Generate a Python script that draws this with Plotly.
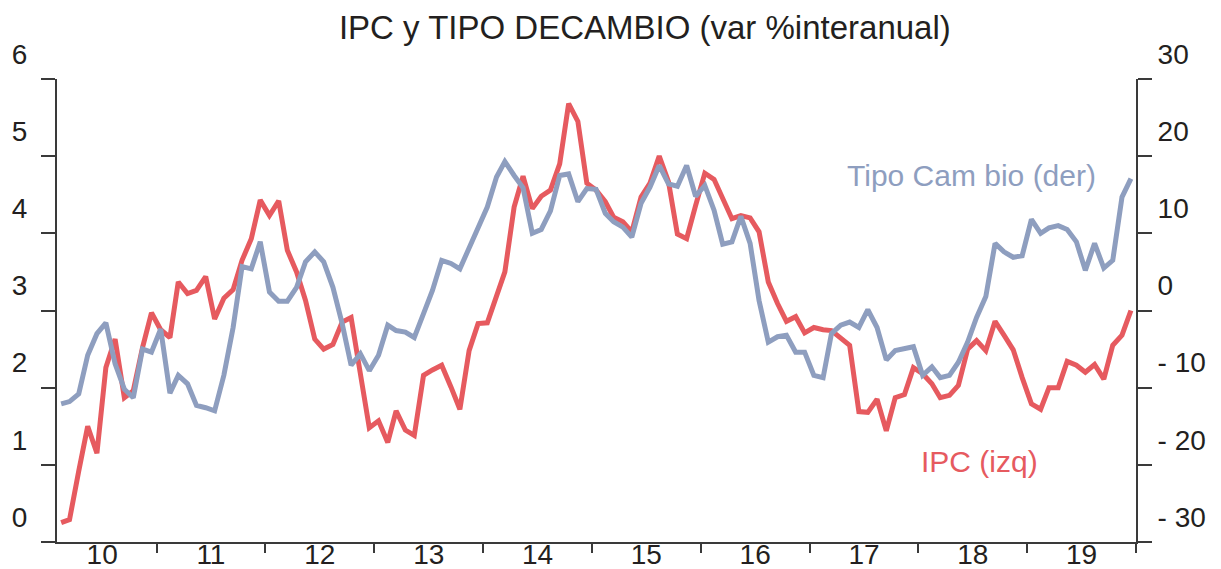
import pandas as pd
import plotly.graph_objects as go

# Monthly data, Feb 2010 - Dec 2019
months = pd.date_range(start="2010-02-01", periods=119, freq="MS") + pd.Timedelta(days=14)

ipc = [0.25, 0.29, 0.92, 1.50, 1.15, 2.26, 2.63, 1.87, 1.96, 2.52, 2.97,
       2.75, 2.65, 3.37, 3.22, 3.26, 3.44, 2.89, 3.16, 3.27, 3.65, 3.93, 4.43,
       4.23, 4.42, 3.78, 3.50, 3.13, 2.63, 2.50, 2.56, 2.85, 2.91, 2.14, 1.48,
       1.57, 1.29, 1.70, 1.45, 1.38, 2.16, 2.23, 2.29, 2.01, 1.72, 2.48, 2.83,
       2.84, 3.21, 3.50, 4.34, 4.74, 4.32, 4.48, 4.56, 4.90, 5.68, 5.45, 4.65,
       4.56, 4.41, 4.21, 4.15, 4.02, 4.47, 4.65, 5.00, 4.67, 3.99, 3.93, 4.36,
       4.78, 4.70, 4.45, 4.19, 4.23, 4.20, 4.02, 3.37, 3.09, 2.86, 2.92, 2.71,
       2.78, 2.75, 2.74, 2.65, 2.55, 1.69, 1.68, 1.85, 1.44, 1.87, 1.91, 2.26,
       2.18, 2.05, 1.87, 1.90, 2.03, 2.50, 2.61, 2.48, 2.86, 2.68, 2.49, 2.13,
       1.79, 1.72, 2.00, 2.00, 2.34, 2.29, 2.20, 2.30, 2.11, 2.55, 2.68, 3.00]

tipo_cambio = [-12.1, -11.8, -10.8, -5.8, -3.0, -1.6, -6.9, -10.2, -11.3, -5.0, -5.4,
               -2.4, -10.7, -8.4, -9.5, -12.3, -12.6, -13.0, -8.4, -2.2, 5.7, 5.4, 8.9,
               2.4, 1.2, 1.2, 3.0, 6.3, 7.6, 6.3, 3.0, -1.7, -7.1, -5.6, -7.8,
               -5.8, -1.9, -2.6, -2.8, -3.5, -0.4, 2.6, 6.5, 6.1, 5.4, 8.0, 10.8,
               13.4, 17.3, 19.3, 17.5, 15.9, 10.0, 10.5, 12.9, 17.5, 17.7, 14.1, 15.8,
               15.7, 12.6, 11.5, 10.8, 9.5, 13.9, 16.0, 18.8, 16.4, 16.1, 18.8, 14.8,
               16.2, 13.0, 8.6, 8.9, 12.2, 8.7, 1.3, -4.1, -3.4, -3.2, -5.4, -5.4,
               -8.4, -8.7, -3.0, -1.9, -1.5, -2.2, 0.1, -2.2, -6.4, -5.2, -5.0, -4.7,
               -8.4, -7.3, -8.7, -8.4, -6.7, -4.1, -0.9, 1.8, 8.7, 7.6, 6.9, 7.1,
               11.8, 10.0, 10.7, 11.0, 10.5, 8.9, 5.2, 8.7, 5.5, 6.5, 14.7, 17.1]

left_ticks = [0, 1, 2, 3, 4, 5, 6]
right_ticks = [-30, -20, -10, 0, 10, 20, 30]
right_labels = ["- 30", "- 20", "- 10", "0", "10", "20", "30"]

RED = "#E65A5F"
BLUE = "#8E9EBF"
INK = "#231F20"
AXIS = "#3A3A3A"
FONT = "Liberation Sans, Arial, sans-serif"

fig = go.Figure()
fig.add_trace(go.Scatter(x=months, y=ipc, mode="lines", name="IPC (izq)",
                         line=dict(color=RED, width=5), yaxis="y"))
fig.add_trace(go.Scatter(x=months, y=tipo_cambio, mode="lines", name="Tipo Cambio (der)",
                         line=dict(color=BLUE, width=5), yaxis="y2"))

fig.update_layout(
    width=1213, height=561,
    margin=dict(l=49, r=85, t=71, b=27),
    paper_bgcolor="white", plot_bgcolor="white",
    showlegend=False,
    font=dict(family=FONT, color=INK, size=28),
    title=dict(text="IPC y TIPO DECAMBIO (var %interanual)", x=0.525, xanchor="center",
               y=0.966, yanchor="middle", font=dict(size=33, color=INK, family=FONT)),
    xaxis=dict(
        type="date", range=["2010-02-01", "2020-01-01"], automargin=False,
        dtick="M12", tick0="2010-01-01", tickformat="%y", ticklabelmode="period",
        ticks="outside", ticklen=9, tickwidth=1.5, tickcolor=AXIS,
        showline=True, linecolor=AXIS, linewidth=2, showgrid=False, zeroline=False,
        tickfont=dict(size=28, color=INK, family=FONT),
        ticklabelstandoff=-23,
    ),
    yaxis=dict(
        range=[0, 6], tickvals=left_ticks, ticktext=[str(t) for t in left_ticks],
        automargin=False,
        ticks="outside", ticklen=14, tickwidth=1.5, tickcolor=AXIS,
        showline=True, linecolor=AXIS, linewidth=2, showgrid=False, zeroline=False,
        tickfont=dict(size=28, color=INK, family=FONT),
        ticklabelshift=-25, ticklabelstandoff=8,
    ),
    yaxis2=dict(
        range=[-30, 30], tickvals=right_ticks, ticktext=right_labels,
        overlaying="y", side="right", automargin=False,
        ticks="outside", ticklen=14, tickwidth=1.5, tickcolor=AXIS,
        showline=True, linecolor=AXIS, linewidth=2, showgrid=False, zeroline=False,
        tickfont=dict(size=28, color=INK, family=FONT),
        ticklabelshift=-25, ticklabelstandoff=0,
    ),
    annotations=[
        dict(text="Tipo Cam bio (der)", xref="paper", yref="paper", x=0.848, y=0.7925,
             xanchor="center", yanchor="middle", showarrow=False,
             font=dict(size=30, color=BLUE, family=FONT)),
        dict(text="IPC (izq)", xref="paper", yref="paper", x=0.855, y=0.174,
             xanchor="center", yanchor="middle", showarrow=False,
             font=dict(size=30, color=RED, family=FONT)),
    ],
)

fig.write_html("out.html")
